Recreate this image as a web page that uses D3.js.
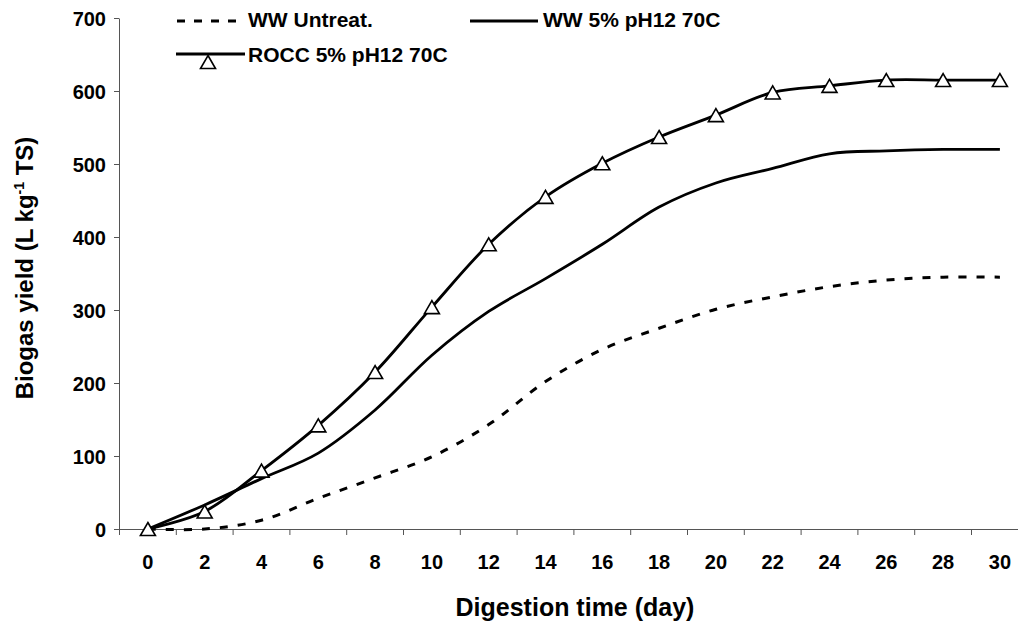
<!DOCTYPE html>
<html>
<head>
<meta charset="utf-8">
<script src="https://cdn.jsdelivr.net/npm/d3@7"></script>
<style>
  html, body { margin: 0; padding: 0; background: #fff; }
  svg { display: block; }
  text { font-family: "Liberation Sans", Arial, sans-serif; font-weight: bold; fill: #000; }
</style>
</head>
<body>
<svg id="chart" width="1018" height="626"></svg>
<script>
// ---- data ----
const days = [0, 2, 4, 6, 8, 10, 12, 14, 16, 18, 20, 22, 24, 26, 28, 30];
const wwUntreat = [0, 0, 12, 42, 70, 99, 143, 202, 246, 275, 301, 318, 332, 341, 345, 345];
const ww5 = [0, 33, 69, 104, 163, 238, 298, 343, 390, 441, 474, 494, 514, 518, 520, 520];
const rocc5 = [0, 24, 80, 142, 215, 304, 390, 455, 501, 537, 567, 598, 607, 615, 615, 615];
const yTicks = [0, 100, 200, 300, 400, 500, 600, 700];
const seriesNames = ["WW Untreat.", "WW 5% pH12 70C", "ROCC 5% pH12 70C"];

const svg = d3.select("#chart");

const x = d3.scaleBand().domain(days).range([119.5, 119.5 + 16 * 56.8]).padding(0);
const bw = x.bandwidth();
const xc = d => x(d) + bw / 2;
const y = d3.scaleLinear().domain([0, 700]).range([529, 18]);

// axes
const yAxis = d3.axisLeft(y).tickValues(yTicks).tickSize(5).tickPadding(8).tickSizeOuter(0);
const gy = svg.append("g").attr("transform", "translate(119,0)").call(yAxis);
gy.selectAll("text").style("font-size", "20px").attr("dy", "0.36em");
gy.selectAll("line, path").attr("stroke", "#555");

const xAxis = d3.axisBottom(x).tickSize(0).tickPadding(26).tickSizeOuter(0);
const gx = svg.append("g").attr("transform", "translate(0,529)").call(xAxis);
gx.selectAll("text").style("font-size", "20px").attr("dy", "0.36em").attr("y", 33);
gx.selectAll("path").attr("stroke", "#555");
// tick marks between categories
gx.selectAll(".bound").data(days).enter().append("line")
  .attr("class", "bound")
  .attr("x1", d => x(d)).attr("x2", d => x(d))
  .attr("y1", 0).attr("y2", 6)
  .attr("stroke", "#555");

// axis titles
svg.append("text").attr("x", 575).attr("y", 616).attr("text-anchor", "middle")
  .style("font-size", "25px").text("Digestion time (day)");

const yt = svg.append("text").attr("transform", "translate(33,268) rotate(-90)")
  .attr("text-anchor", "middle").style("font-size", "24px");
yt.append("tspan").text("Biogas yield (L kg");
yt.append("tspan").attr("dy", -9).style("font-size", "14px").text("-1");
yt.append("tspan").attr("dy", 9).text(" TS)");

// lines
const line = vals => d3.line()
  .x((d, i) => xc(days[i]))
  .y(d => y(d))
  .curve(d3.curveCatmullRom.alpha(0.5))(vals);

svg.append("path").attr("d", line(wwUntreat)).attr("fill", "none")
  .attr("stroke", "#000").attr("stroke-width", 3).attr("stroke-dasharray", "8,10");
svg.append("path").attr("d", line(ww5)).attr("fill", "none")
  .attr("stroke", "#000").attr("stroke-width", 2.8);
svg.append("path").attr("d", line(rocc5)).attr("fill", "none")
  .attr("stroke", "#000").attr("stroke-width", 2.8);

const tri = "M0,-6.5L7.5,6.5L-7.5,6.5Z";
svg.selectAll(".tri").data(rocc5).enter().append("path")
  .attr("class", "tri")
  .attr("d", tri)
  .attr("transform", (d, i) => `translate(${xc(days[i])},${y(d)})`)
  .attr("fill", "#fff").attr("stroke", "#000").attr("stroke-width", 1.6);

// legend
const lg = svg.append("g");
lg.append("line").attr("x1", 177).attr("x2", 241).attr("y1", 21).attr("y2", 21)
  .attr("stroke", "#000").attr("stroke-width", 3).attr("stroke-dasharray", "8,9");
lg.append("text").attr("x", 248).attr("y", 19).attr("dy", "0.36em")
  .style("font-size", "21px").text(seriesNames[0]);

lg.append("line").attr("x1", 470).attr("x2", 538).attr("y1", 21).attr("y2", 21)
  .attr("stroke", "#000").attr("stroke-width", 2.8);
lg.append("text").attr("x", 543).attr("y", 19).attr("dy", "0.36em")
  .style("font-size", "21px").text(seriesNames[1]);

lg.append("line").attr("x1", 176).attr("x2", 245).attr("y1", 54).attr("y2", 54)
  .attr("stroke", "#000").attr("stroke-width", 2.8);
lg.append("path").attr("d", tri).attr("transform", "translate(208,62)")
  .attr("fill", "#fff").attr("stroke", "#000").attr("stroke-width", 1.6);
lg.append("text").attr("x", 248).attr("y", 54).attr("dy", "0.36em")
  .style("font-size", "21px").text(seriesNames[2]);
</script>
</body>
</html>
